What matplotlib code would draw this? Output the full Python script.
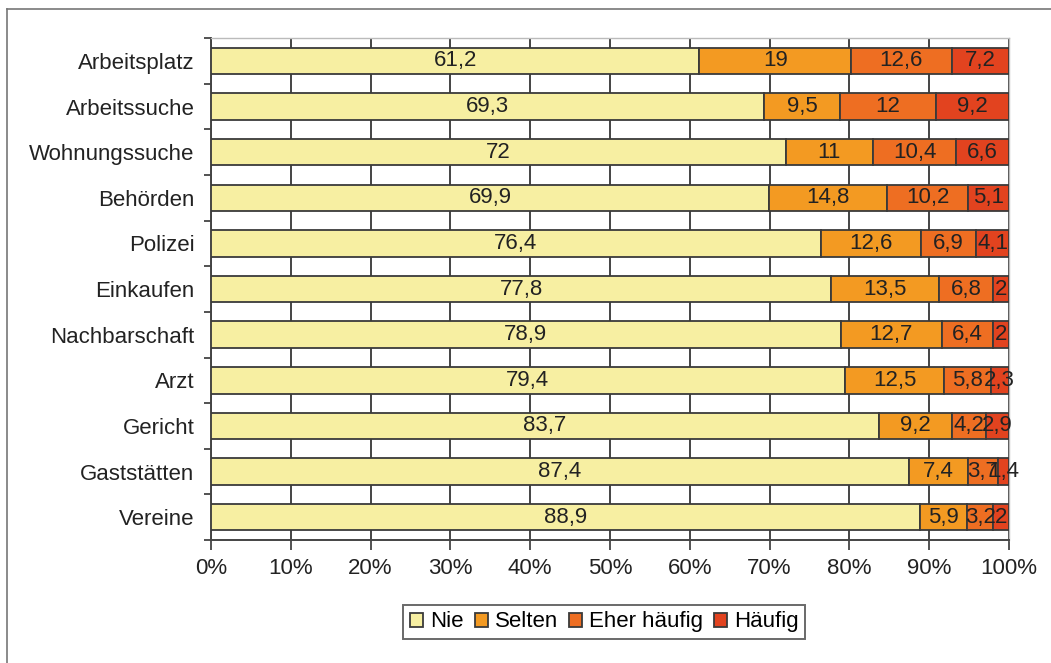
import numpy as np
import matplotlib.pyplot as plt
from matplotlib.lines import Line2D

categories = ['Arbeitsplatz', 'Arbeitssuche', 'Wohnungssuche', 'Behörden', 'Polizei',
              'Einkaufen', 'Nachbarschaft', 'Arzt', 'Gericht', 'Gaststätten', 'Vereine']
nie = [61.2, 69.3, 72, 69.9, 76.4, 77.8, 78.9, 79.4, 83.7, 87.4, 88.9]
selten = [19, 9.5, 11, 14.8, 12.6, 13.5, 12.7, 12.5, 9.2, 7.4, 5.9]
eher_haeufig = [12.6, 12, 10.4, 10.2, 6.9, 6.8, 6.4, 5.8, 4.2, 3.7, 3.2]
haeufig = [7.2, 9.2, 6.6, 5.1, 4.1, 2, 2, 2.3, 2.9, 1.4, 2]

series = [('Nie', nie, '#F7EFA2'),
          ('Selten', selten, '#F39A22'),
          ('Eher häufig', eher_haeufig, '#EE6E22'),
          ('Häufig', haeufig, '#E2431F')]

plt.rcParams['font.family'] = ['Liberation Sans', 'DejaVu Sans']
FS = 16

fig = plt.figure(figsize=(10.51, 6.63), dpi=100)
ax = fig.add_axes([0.2008, 0.1855, 0.7592, 0.757])

y = np.arange(len(categories))
totals = np.sum([s[1] for s in series], axis=0)
left = np.zeros(len(categories))
handles = []
for name, vals, color in series:
    vals = np.array(vals, dtype=float)
    share = vals / totals * 100
    bars = ax.barh(y, share, left=left, height=0.58, color=color,
                   edgecolor='#3a3a3a', linewidth=1.3, zorder=3, label=name)
    for yi, l, w, v in zip(y, left, share, vals):
        txt = f'{v:g}'.replace('.', ',')
        ax.text(l + w / 2, yi, txt, ha='center', va='center',
                fontsize=FS, color='#222222', zorder=4)
    left += share
    handles.append(bars)

ax.set_xlim(0, 100)
ax.set_ylim(len(categories) - 0.5, -0.5)
ax.set_xticks(np.arange(0, 101, 10))
ax.set_xticklabels([f'{v}%' for v in range(0, 101, 10)], fontsize=FS, color='#222222')
ax.xaxis.grid(True, color='#444444', linewidth=1.4, zorder=0)

ax.set_yticks(y)
ax.set_yticklabels(categories, fontsize=FS, color='#222222')
ax.set_yticks(np.arange(-0.5, len(categories)), minor=True)
ax.tick_params(axis='y', which='major', length=0, pad=12)
ax.tick_params(axis='y', which='minor', length=5, width=1.3, color='#444444')
ax.tick_params(axis='x', length=7, width=1.3, color='#444444', pad=6)

for side in ['left', 'bottom']:
    ax.spines[side].set_color('#444444')
    ax.spines[side].set_linewidth(1.4)
for side in ['top', 'right']:
    ax.spines[side].set_color('#bbbbbb')
    ax.spines[side].set_linewidth(1.0)

leg = fig.legend(handles=handles, loc='center', bbox_to_anchor=(0.575, 0.062),
                 ncol=4, fontsize=FS, frameon=True, fancybox=False,
                 handlelength=0.6, handleheight=0.6, handletextpad=0.3,
                 columnspacing=0.5, borderpad=0.3)
leg.get_frame().set_edgecolor('#444444')
leg.get_frame().set_linewidth(1.4)

# outer border: top and left edges only
fig.add_artist(Line2D([7 / 1051, 1], [1 - 9 / 663, 1 - 9 / 663],
                      transform=fig.transFigure, color='#777777', linewidth=1.2))
fig.add_artist(Line2D([7 / 1051, 7 / 1051], [0, 1 - 9 / 663],
                      transform=fig.transFigure, color='#777777', linewidth=1.2))

fig.savefig('out.png', dpi=100)
